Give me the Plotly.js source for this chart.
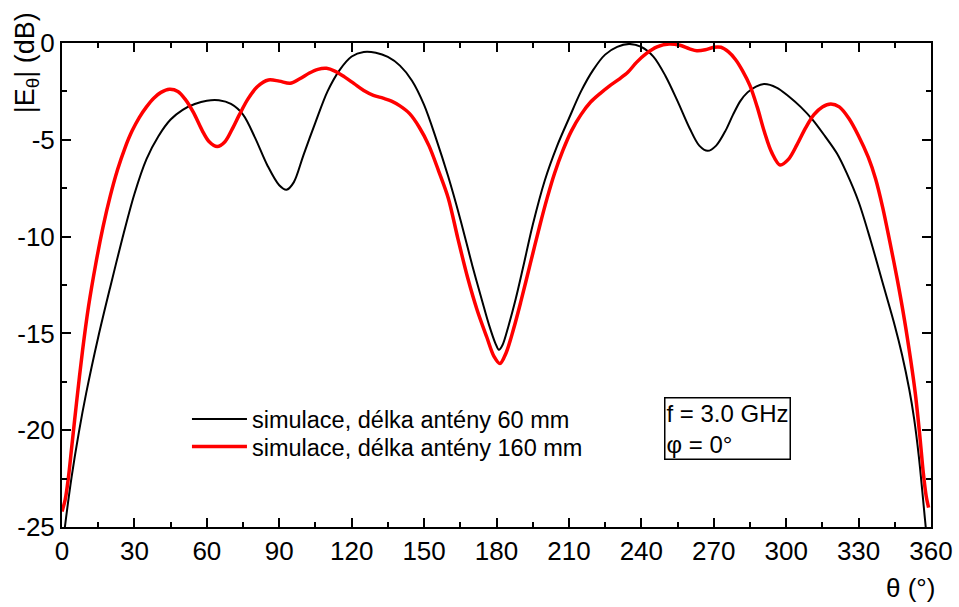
<!DOCTYPE html>
<html>
<head>
<meta charset="utf-8">
<script src="https://cdn.plot.ly/plotly-3.0.1.min.js"></script>
<style>html,body{margin:0;padding:0;background:#fff;}#chart{width:959px;height:607px;}</style>
</head>
<body>
<div id="chart"></div>
<script>
// Black: simulace, délka antény 60 mm
const thetaA = [0, 1.2, 4, 7, 10, 15, 20, 25, 30, 35, 40, 45, 50, 55, 60, 65, 70, 75, 80, 85, 90, 93, 96, 100, 105, 110, 115, 120, 125, 130, 135, 140, 145, 150, 155, 160, 165, 170, 174, 177, 179.5, 181, 182.5, 185, 188, 191, 195, 200, 205, 210, 215, 220, 225, 230, 235, 240, 245, 250, 255, 260, 264, 267.5, 271, 275, 278, 281, 284, 287.5, 291, 296, 301, 306, 311, 316, 321, 325, 330, 335, 340, 345, 348, 351, 353, 355, 357.5, 360];
const dbA = [-26.3, -25.0, -22.4, -20.1, -18.1, -15.2, -12.6, -10.1, -7.8, -6.0, -4.8, -3.95, -3.45, -3.15, -2.98, -2.96, -3.15, -3.7, -4.9, -6.3, -7.35, -7.58, -7.2, -5.8, -4.1, -2.5, -1.4, -0.7, -0.46, -0.5, -0.72, -1.17, -1.95, -3.2, -4.95, -6.9, -9.1, -11.5, -13.3, -14.6, -15.5, -15.85, -15.6, -14.6, -13.2, -11.6, -9.4, -7.1, -5.35, -3.9, -2.5, -1.4, -0.6, -0.2, -0.05, -0.2, -0.7, -1.7, -3.0, -4.4, -5.3, -5.57, -5.3, -4.5, -3.7, -3.0, -2.55, -2.25, -2.12, -2.3, -2.75, -3.3, -3.97, -4.8, -5.7, -6.7, -8.2, -10.2, -12.4, -14.6, -16.1, -17.9, -19.4, -21.4, -24.6, -27.8];

// Red: simulace, délka antény 160 mm
const thetaB = [0, 1.3, 2.6, 4, 6, 8.5, 11, 14, 17, 20, 23, 26, 29, 32, 35, 38, 41, 44.5, 48, 51, 54.5, 58, 61, 64.3, 67.5, 70.5, 73.5, 77, 81, 85.5, 90, 94.5, 98.5, 102.5, 106, 109.6, 113, 117, 121, 125, 129, 133, 136.5, 140, 144, 148, 152, 156, 160, 164, 168, 172, 176, 179, 181.4, 184, 187, 190, 194, 198, 201, 204, 207.5, 211, 215, 219, 223, 227, 231, 234.5, 238, 242, 246.5, 251.5, 256, 260, 263, 266.5, 270, 273, 276, 279, 282, 285, 288, 291, 294, 297.5, 301, 304.5, 308, 311.5, 315, 318.5, 322, 326, 330, 334, 337, 340, 343, 346, 349, 351.5, 353.5, 355.3, 356.8, 358, 359];
const dbB = [-24.2, -23.6, -22.5, -20.9, -18.6, -15.9, -13.6, -11.4, -9.5, -7.9, -6.55, -5.45, -4.55, -3.85, -3.3, -2.85, -2.55, -2.39, -2.5, -2.9, -3.6, -4.5, -5.1, -5.35, -5.1, -4.45, -3.7, -2.9, -2.25, -1.91, -1.97, -2.08, -1.85, -1.55, -1.36, -1.31, -1.45, -1.75, -2.1, -2.45, -2.7, -2.85, -3.0, -3.25, -3.65, -4.35, -5.3, -6.6, -8.0, -10.1, -12.1, -13.8, -15.2, -16.2, -16.56, -16.0, -14.8, -13.4, -11.4, -9.4, -8.0, -6.75, -5.55, -4.55, -3.7, -3.05, -2.6, -2.2, -1.85, -1.5, -1.0, -0.55, -0.2, -0.05, -0.12, -0.3, -0.4, -0.35, -0.22, -0.22, -0.45, -0.85, -1.45, -2.2, -3.3, -4.6, -5.65, -6.3, -6.0, -5.25, -4.4, -3.7, -3.3, -3.15, -3.3, -3.9, -4.8, -5.9, -7.0, -8.5, -10.3, -12.2, -14.3, -16.3, -18.1, -20.2, -22.2, -23.4, -24.0];

const names = ["simulace, délka antény 60 mm", "simulace, délka antény 160 mm"];
const xTicks = [0, 30, 60, 90, 120, 150, 180, 210, 240, 270, 300, 330, 360];
const yTicks = [-25, -20, -15, -10, -5, 0];

const FONT = "Arial, 'Liberation Sans', sans-serif";

const traces = [
  {x: thetaA, y: dbA, name: names[0], legend: "legend", mode: "lines",
   line: {color: "#000000", width: 2, shape: "spline", smoothing: 0.9}},
  {x: thetaB, y: dbB, name: names[1], legend: "legend2", mode: "lines",
   line: {color: "#ff0000", width: 3.5, shape: "spline", smoothing: 0.9}}
];

const axisCommon = {
  showline: true, linecolor: "#000", linewidth: 2, mirror: "ticks",
  ticks: "inside", ticklen: 9, tickwidth: 2, tickcolor: "#000",
  showgrid: false, zeroline: false,
  tickfont: {family: FONT, size: 26, color: "#000"}
};

const legendCommon = {
  xanchor: "left", yanchor: "middle", itemwidth: 55,
  bgcolor: "rgba(0,0,0,0)", borderwidth: 0,
  font: {family: FONT, size: 23.5, color: "#000"}
};

const layout = {
  width: 959, height: 607,
  margin: {l: 62, r: 28, t: 43, b: 80},
  paper_bgcolor: "#fff", plot_bgcolor: "#fff",
  font: {family: FONT, color: "#000"},
  showlegend: true,
  legend: Object.assign({}, legendCommon, {x: 0.1438, y: 0.2225}),
  legend2: Object.assign({}, legendCommon, {x: 0.1438, y: 0.1661}),
  xaxis: Object.assign({}, axisCommon, {
    range: [0, 360], tickmode: "array", tickvals: xTicks, ticktext: xTicks.map(String),
    minor: {ticks: "inside", ticklen: 5, tickwidth: 2, tickcolor: "#000", dtick: 15, tick0: 0}
  }),
  yaxis: Object.assign({}, axisCommon, {
    range: [-25, 0], tickmode: "array", tickvals: yTicks, ticktext: yTicks.map(String),
    minor: {ticks: "inside", ticklen: 5, tickwidth: 2, tickcolor: "#000", dtick: 2.5, tick0: 0}
  }),
  annotations: [
    {xref: "paper", yref: "paper", x: 0.6928, y: 0.2693, xanchor: "left", yanchor: "top",
     text: "f = 3.0 GHz<br>φ = 0°", align: "left", showarrow: false,
     font: {family: FONT, size: 24, color: "#000"},
     bordercolor: "#000", borderwidth: 1.5, borderpad: 1, bgcolor: "#fff"},
    {xref: "paper", yref: "paper", x: 1.007, y: -0.125, xanchor: "right", yanchor: "middle",
     text: "θ (°)", showarrow: false, font: {family: FONT, size: 26, color: "#000"}},
    {xref: "paper", yref: "paper", x: -0.041, y: 0.959, xanchor: "center", yanchor: "middle",
     textangle: -90, text: "|E<sub>θ</sub>| (dB)", showarrow: false,
     font: {family: FONT, size: 27, color: "#000"}}
  ]
};

Plotly.newPlot("chart", traces, layout, {displayModeBar: false, staticPlot: true});
</script>
</body>
</html>
